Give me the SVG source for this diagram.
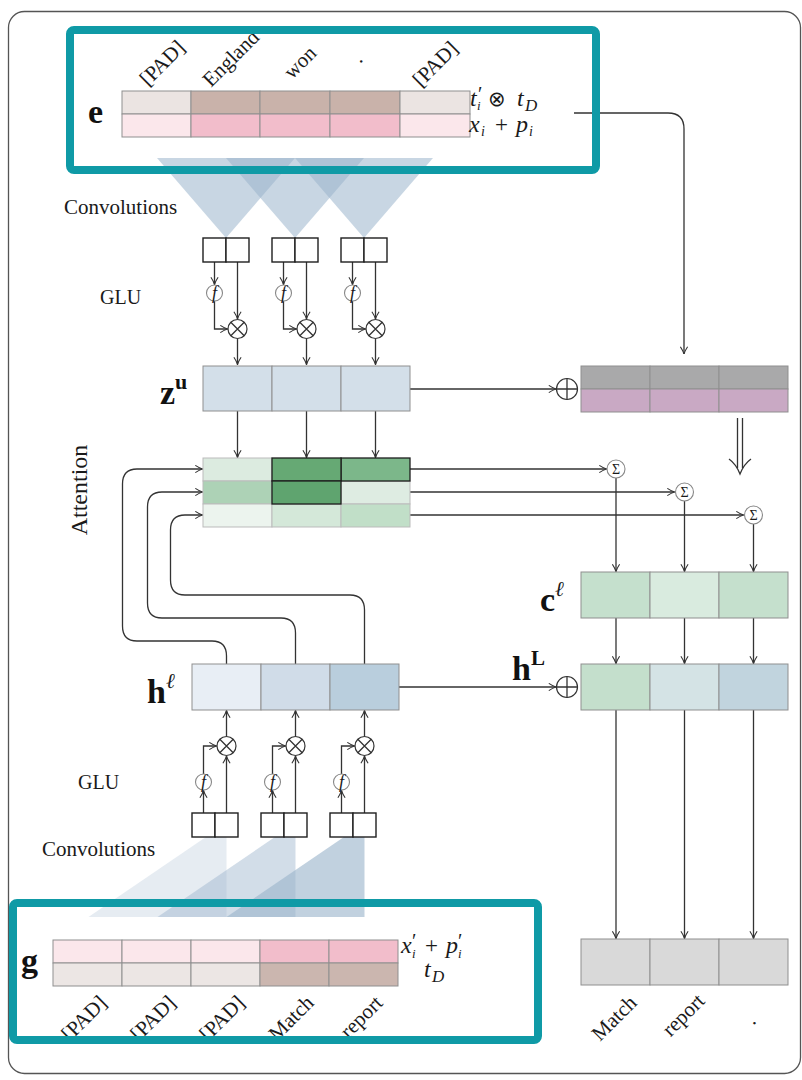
<svg xmlns="http://www.w3.org/2000/svg" width="802" height="1080" viewBox="0 0 802 1080">
<style>
.t{font-family:"Liberation Serif","DejaVu Serif",serif;fill:#1a1a1a}
.m{font-family:"Liberation Serif","DejaVu Serif",serif;font-style:italic;fill:#1a1a1a}
.up{font-style:normal}
.s{font-family:"DejaVu Sans","Liberation Sans",sans-serif;font-style:normal;font-weight:normal}
.b{font-family:"Liberation Serif","DejaVu Serif",serif;font-weight:bold;fill:#111}
.cell{stroke:#8f8f8f;stroke-width:1}
.dk{stroke:#1e1e1e;stroke-width:1.3}
.box{fill:#fff;stroke:#1e1e1e;stroke-width:1.4}
.ln{fill:none;stroke:#333;stroke-width:1.3}
.ar{fill:none;stroke:#333;stroke-width:1.3;marker-end:url(#ah)}
.op{fill:#fff;stroke:#333;stroke-width:1.2}
.gc{fill:#fff;stroke:#888;stroke-width:1.1}
.fc{fill:none;stroke:#888;stroke-width:1.1}
.tri{fill:#9bb4cc}
.teal{fill:none;stroke:#0f9aa6;stroke-width:8}
</style>
<defs>
<marker id="ah" viewBox="0 0 10 10" refX="9.5" refY="5" markerWidth="9" markerHeight="9" orient="auto" markerUnits="userSpaceOnUse">
<path d="M1.5,1 Q6,4 9.5,5 Q6,6 1.5,9" fill="none" stroke="#333" stroke-width="1.2"/>
</marker>
<clipPath id="clipG"><rect x="0" y="990" width="560" height="50"/></clipPath>
</defs>

<rect x="8.5" y="11.5" width="792" height="1062" rx="16" fill="#fff" stroke="#555" stroke-width="1.3"/>

<!-- top convolution triangles -->
<g id="conv-top">
<polygon class="tri" fill-opacity="0.55" points="157,158 295,158 226,238"/>
<polygon class="tri" fill-opacity="0.55" points="226,158 364,158 295,238"/>
<polygon class="tri" fill-opacity="0.55" points="295,158 433,158 364,238"/>
</g>

<!-- bottom convolution triangles -->
<g id="conv-bottom">
<polygon class="tri" fill-opacity="0.25" points="226.5,823 226.5,917 88.5,917"/>
<polygon class="tri" fill-opacity="0.45" points="295.5,823 295.5,917 157.5,917"/>
<polygon class="tri" fill-opacity="0.62" points="364.5,823 364.5,917 226.5,917"/>
</g>

<!-- e embedding -->
<g id="node-e">
<rect class="cell" x="122" y="91" width="69" height="23" fill="#ebe4e2"/>
<rect class="cell" x="191" y="91" width="69" height="23" fill="#c9b2aa"/>
<rect class="cell" x="260" y="91" width="70" height="23" fill="#c9b2aa"/>
<rect class="cell" x="330" y="91" width="70" height="23" fill="#c9b2aa"/>
<rect class="cell" x="400" y="91" width="70" height="23" fill="#ebe4e2"/>
<rect class="cell" x="122" y="114" width="69" height="23" fill="#fbe7eb"/>
<rect class="cell" x="191" y="114" width="69" height="23" fill="#f2bdcb"/>
<rect class="cell" x="260" y="114" width="70" height="23" fill="#f2bdcb"/>
<rect class="cell" x="330" y="114" width="70" height="23" fill="#f2bdcb"/>
<rect class="cell" x="400" y="114" width="70" height="23" fill="#fbe7eb"/>
<text class="b" x="88" y="123" font-size="34">e</text>
<text class="m" font-size="24"><tspan x="470" y="106">t</tspan><tspan class="up" x="478" y="101" font-size="20">′</tspan><tspan x="477" y="110" font-size="13">i</tspan><tspan class="s" x="488" y="106" font-size="21">⊗</tspan><tspan x="517" y="106">t</tspan><tspan x="525" y="111" font-size="17">D</tspan></text>
<text class="m" font-size="24"><tspan x="469" y="132">x</tspan><tspan x="481" y="136" font-size="14">i</tspan><tspan class="up" x="495" y="132" font-size="23">+</tspan><tspan x="516" y="132">p</tspan><tspan x="529" y="136" font-size="14">i</tspan></text>
<text class="t" font-size="21" transform="translate(148,87) rotate(-45)">[PAD]</text>
<text class="t" font-size="21" transform="translate(211,88) rotate(-45)">England</text>
<text class="t" font-size="21" transform="translate(292,80) rotate(-45)">won</text>
<text class="t" font-size="21" transform="translate(360,64) rotate(-45)">.</text>
<text class="t" font-size="21" transform="translate(421,88) rotate(-45)">[PAD]</text>
</g>

<text class="t" x="64" y="214" font-size="21">Convolutions</text>
<text class="t" x="100" y="304" font-size="20">GLU</text>
<text class="t" font-size="24" transform="translate(87,490) rotate(-90)" text-anchor="middle">Attention</text>
<text class="t" x="78" y="789" font-size="20">GLU</text>
<text class="t" x="42" y="856" font-size="21">Convolutions</text>

<!-- connectors -->
<g id="connectors">
<path class="ar" d="M214.5,262 V284.5"/>
<path class="ar" d="M214.5,301 V329 H227.5"/>
<path class="ar" d="M237.5,262 V319"/>
<path class="ar" d="M237.5,338.5 V364.5"/>
<path class="ar" d="M283.5,262 V284.5"/>
<path class="ar" d="M283.5,301 V329 H296.5"/>
<path class="ar" d="M306.5,262 V319"/>
<path class="ar" d="M306.5,338.5 V364.5"/>
<path class="ar" d="M352.5,262 V284.5"/>
<path class="ar" d="M352.5,301 V329 H365.5"/>
<path class="ar" d="M375.5,262 V319"/>
<path class="ar" d="M375.5,338.5 V364.5"/>
<path class="ar" d="M237.5,411 V457.5"/>
<path class="ar" d="M306.5,411 V457.5"/>
<path class="ar" d="M375.5,411 V457.5"/>
<path class="ar" d="M410,389 H556"/>
<path class="ar" d="M574,113 H668 Q684,113 684,129 V354"/>
<path class="ln" d="M737.5,418 V468 M742.5,418 V468"/>
<path class="ln" d="M729,459 Q736,464 740,474 Q744,464 751,459"/>
<path class="ar" d="M410,469 H606.5"/>
<path class="ar" d="M410,492 H674.5"/>
<path class="ar" d="M410,515 H743.5"/>
<path class="ar" d="M616,478 V571.5"/>
<path class="ar" d="M684.5,501 V571.5"/>
<path class="ar" d="M753.5,524 V571.5"/>
<path class="ar" d="M616,618 V663.5"/>
<path class="ar" d="M684.5,618 V663.5"/>
<path class="ar" d="M753.5,618 V663.5"/>
<path class="ar" d="M616,710 V938.5"/>
<path class="ar" d="M684.5,710 V938.5"/>
<path class="ar" d="M753.5,710 V938.5"/>
<path class="ar" d="M398,687 H556"/>
<path class="ar" d="M226.5,664 V656 Q226.5,641 212,641 H137 Q122.5,641 122.5,626 V484 Q122.5,469 137,469 H202.5"/>
<path class="ar" d="M295.5,664 V633 Q295.5,618 281,618 H162 Q147.5,618 147.5,603 V507 Q147.5,492 162,492 H202.5"/>
<path class="ar" d="M364.5,664 V610 Q364.5,595 350,595 H185 Q170.5,595 170.5,580 V530 Q170.5,515 185,515 H202.5"/>
<path class="ar" d="M203.5,813 V790.5"/>
<path class="ar" d="M203.5,774 V746 H216.5"/>
<path class="ar" d="M226.5,813 V756"/>
<path class="ar" d="M226.5,736.5 V710.5"/>
<path class="ar" d="M272.5,813 V790.5"/>
<path class="ar" d="M272.5,774 V746 H285.5"/>
<path class="ar" d="M295.5,813 V756"/>
<path class="ar" d="M295.5,736.5 V710.5"/>
<path class="ar" d="M341.5,813 V790.5"/>
<path class="ar" d="M341.5,774 V746 H354.5"/>
<path class="ar" d="M364.5,813 V756"/>
<path class="ar" d="M364.5,736.5 V710.5"/>
</g>

<!-- top GLU boxes and operators -->
<g id="glu-top">
<rect class="box" x="203" y="238" width="23" height="24"/><rect class="box" x="226" y="238" width="23" height="24"/>
<rect class="box" x="272" y="238" width="23" height="24"/><rect class="box" x="295" y="238" width="23" height="24"/>
<rect class="box" x="341" y="238" width="23" height="24"/><rect class="box" x="364" y="238" width="23" height="24"/>
<circle class="fc" cx="214.5" cy="293" r="8"/>
<circle class="fc" cx="283.5" cy="293" r="8"/>
<circle class="fc" cx="352.5" cy="293" r="8"/>
<text class="m" x="214.5" y="299" font-size="18" text-anchor="middle">f</text>
<text class="m" x="283.5" y="299" font-size="18" text-anchor="middle">f</text>
<text class="m" x="352.5" y="299" font-size="18" text-anchor="middle">f</text>
<g class="op"><circle cx="237.5" cy="329" r="9.5"/><circle cx="306.5" cy="329" r="9.5"/><circle cx="375.5" cy="329" r="9.5"/></g>
<path class="ln" d="M230.8,322.3 L244.2,335.7 M244.2,322.3 L230.8,335.7 M299.8,322.3 L313.2,335.7 M313.2,322.3 L299.8,335.7 M368.8,322.3 L382.2,335.7 M382.2,322.3 L368.8,335.7"/>
</g>

<!-- z^u -->
<g id="node-zu">
<rect class="cell" x="203" y="366" width="69" height="45" fill="#d3dfe9"/>
<rect class="cell" x="272" y="366" width="69" height="45" fill="#d3dfe9"/>
<rect class="cell" x="341" y="366" width="69" height="45" fill="#d3dfe9"/>
<text class="b" x="160" y="404" font-size="34">z<tspan dy="-15" font-size="22">u</tspan></text>
</g>

<!-- plus + right table -->
<g id="node-sum-top">
<circle class="op" cx="567" cy="389" r="10.5"/>
<path class="ln" d="M556.5,389 H577.5 M567,378.5 V399.5"/>
<rect class="cell" x="581" y="366" width="69" height="23" fill="#a9a9aa"/>
<rect class="cell" x="650" y="366" width="69" height="23" fill="#a9a9aa"/>
<rect class="cell" x="719" y="366" width="69" height="23" fill="#a9a9aa"/>
<rect class="cell" x="581" y="389" width="69" height="23" fill="#c9a9c4"/>
<rect class="cell" x="650" y="389" width="69" height="23" fill="#c9a9c4"/>
<rect class="cell" x="719" y="389" width="69" height="23" fill="#c9a9c4"/>
</g>

<!-- attention -->
<g id="node-attention">
<rect x="203" y="458" width="69" height="23" fill="#dcebe0" stroke="#bbb"/>
<rect x="203" y="481" width="69" height="23" fill="#add2b6" stroke="#bbb"/>
<rect x="203" y="504" width="69" height="23" fill="#ecf4ee" stroke="#bbb"/>
<rect x="272" y="504" width="69" height="23" fill="#d4e8d9" stroke="#bbb"/>
<rect x="341" y="481" width="69" height="23" fill="#deece2" stroke="#bbb"/>
<rect x="341" y="504" width="69" height="23" fill="#c1dfc8" stroke="#bbb"/>
<rect class="dk" x="341" y="458" width="69" height="23" fill="#7cb78a"/>
<rect class="dk" x="272" y="458" width="69" height="23" fill="#66a974"/>
<rect class="dk" x="272" y="481" width="69" height="23" fill="#5fa46f"/>
</g>

<!-- sigma nodes -->
<g id="node-sigma">
<circle class="gc" cx="616" cy="469" r="9"/>
<circle class="gc" cx="684.5" cy="492" r="9"/>
<circle class="gc" cx="753.5" cy="515" r="9"/>
<text class="t" x="616" y="474" font-size="14" text-anchor="middle" fill="#555">Σ</text>
<text class="t" x="684.5" y="497" font-size="14" text-anchor="middle" fill="#555">Σ</text>
<text class="t" x="753.5" y="520" font-size="14" text-anchor="middle" fill="#555">Σ</text>
</g>

<!-- c^l -->
<g id="node-c">
<rect class="cell" x="581" y="572" width="69" height="46" fill="#c5e0cd"/>
<rect class="cell" x="650" y="572" width="69" height="46" fill="#d9ebdf"/>
<rect class="cell" x="719" y="572" width="69" height="46" fill="#c5e0cd"/>
<text class="b" x="540" y="611" font-size="34">c<tspan class="m" font-weight="normal" dy="-15" font-size="21">ℓ</tspan></text>
</g>

<!-- h^L -->
<g id="node-hL">
<circle class="op" cx="567" cy="687" r="10.5"/>
<path class="ln" d="M556.5,687 H577.5 M567,676.5 V697.5"/>
<rect class="cell" x="581" y="664" width="69" height="46" fill="#c4dfcc"/>
<rect class="cell" x="650" y="664" width="69" height="46" fill="#d4e3e5"/>
<rect class="cell" x="719" y="664" width="69" height="46" fill="#c1d4de"/>
<text class="b" x="512" y="680" font-size="34">h<tspan dy="-15" font-size="21">L</tspan></text>
</g>

<!-- h^l -->
<g id="node-hl">
<rect class="cell" x="192" y="664" width="69" height="46" fill="#e8eef5"/>
<rect class="cell" x="261" y="664" width="69" height="46" fill="#d0dce8"/>
<rect class="cell" x="330" y="664" width="69" height="46" fill="#b9cedd"/>
<text class="b" x="147" y="703" font-size="34">h<tspan class="m" font-weight="normal" dy="-15" font-size="21">ℓ</tspan></text>
</g>

<!-- bottom GLU boxes and operators -->
<g id="glu-bottom">
<rect class="box" x="192" y="813" width="23" height="24"/><rect class="box" x="215" y="813" width="23" height="24"/>
<rect class="box" x="261" y="813" width="23" height="24"/><rect class="box" x="284" y="813" width="23" height="24"/>
<rect class="box" x="330" y="813" width="23" height="24"/><rect class="box" x="353" y="813" width="23" height="24"/>
<circle class="fc" cx="203.5" cy="782" r="8"/>
<circle class="fc" cx="272.5" cy="782" r="8"/>
<circle class="fc" cx="341.5" cy="782" r="8"/>
<text class="m" x="203.5" y="788" font-size="18" text-anchor="middle">f</text>
<text class="m" x="272.5" y="788" font-size="18" text-anchor="middle">f</text>
<text class="m" x="341.5" y="788" font-size="18" text-anchor="middle">f</text>
<g class="op"><circle cx="226.5" cy="746" r="9.5"/><circle cx="295.5" cy="746" r="9.5"/><circle cx="364.5" cy="746" r="9.5"/></g>
<path class="ln" d="M219.8,739.3 L233.2,752.7 M233.2,739.3 L219.8,752.7 M288.8,739.3 L302.2,752.7 M302.2,739.3 L288.8,752.7 M357.8,739.3 L371.2,752.7 M371.2,739.3 L357.8,752.7"/>
</g>

<!-- g embedding -->
<g id="node-g">
<rect class="cell" x="53" y="940" width="69" height="23" fill="#fbe7eb"/>
<rect class="cell" x="122" y="940" width="69" height="23" fill="#fbe7eb"/>
<rect class="cell" x="191" y="940" width="69" height="23" fill="#fbe7eb"/>
<rect class="cell" x="260" y="940" width="69" height="23" fill="#f2bdcb"/>
<rect class="cell" x="329" y="940" width="69" height="23" fill="#f2bdcb"/>
<rect class="cell" x="53" y="963" width="69" height="23" fill="#ece6e4"/>
<rect class="cell" x="122" y="963" width="69" height="23" fill="#ece6e4"/>
<rect class="cell" x="191" y="963" width="69" height="23" fill="#ece6e4"/>
<rect class="cell" x="260" y="963" width="69" height="23" fill="#cbb6af"/>
<rect class="cell" x="329" y="963" width="69" height="23" fill="#cbb6af"/>
<text class="b" x="21" y="972" font-size="34">g</text>
<text class="m" font-size="24"><tspan x="401" y="953">x</tspan><tspan class="up" x="412" y="948" font-size="20">′</tspan><tspan x="412" y="958" font-size="13">i</tspan><tspan class="up" x="425" y="953" font-size="23">+</tspan><tspan x="446" y="953">p</tspan><tspan class="up" x="458" y="948" font-size="20">′</tspan><tspan x="458" y="958" font-size="13">i</tspan></text>
<text class="m" font-size="24"><tspan x="424" y="977">t</tspan><tspan x="432" y="982" font-size="17">D</tspan></text>
<g clip-path="url(#clipG)">
<text class="t" font-size="21" text-anchor="end" transform="translate(108,1004) rotate(-45)">[PAD]</text>
<text class="t" font-size="21" text-anchor="end" transform="translate(177,1004) rotate(-45)">[PAD]</text>
<text class="t" font-size="21" text-anchor="end" transform="translate(246,1004) rotate(-45)">[PAD]</text>
<text class="t" font-size="21" text-anchor="end" transform="translate(315,1004) rotate(-45)">Match</text>
<text class="t" font-size="21" text-anchor="end" transform="translate(384,1004) rotate(-45)">report</text>
</g>
</g>

<!-- output -->
<g id="node-output">
<rect class="cell" x="581" y="939" width="69" height="46" fill="#d9d9d9"/>
<rect class="cell" x="650" y="939" width="69" height="46" fill="#d9d9d9"/>
<rect class="cell" x="719" y="939" width="69" height="46" fill="#d9d9d9"/>
<text class="t" font-size="21" text-anchor="end" transform="translate(638,1004) rotate(-45)">Match</text>
<text class="t" font-size="21" text-anchor="end" transform="translate(706,1002) rotate(-45)">report</text>
<text class="t" font-size="21" text-anchor="end" transform="translate(757,1022) rotate(-45)">.</text>
</g>

<!-- highlight frames -->
<rect class="teal" x="70" y="30" width="526" height="140" rx="4"/>
<rect class="teal" x="13" y="903" width="525" height="137" rx="4"/>
</svg>
